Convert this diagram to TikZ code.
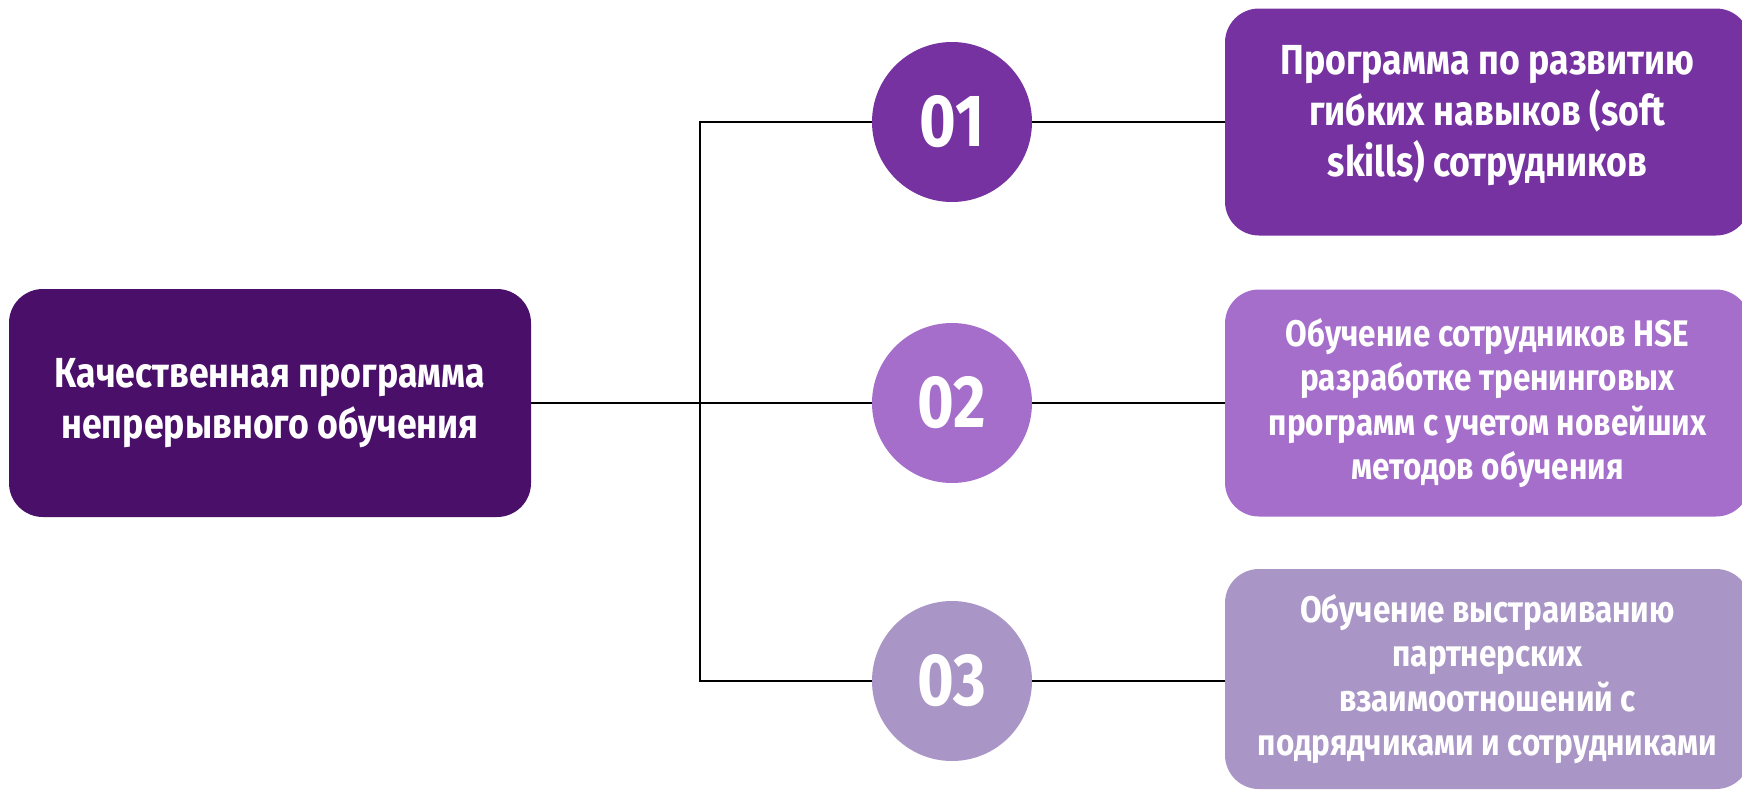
\documentclass[tikz,border=0pt]{standalone}
\usepackage{fontspec}
\setmainfont{Fira Sans}
\newfontfamily\condfont{Fira Sans}[FakeStretch=0.85]
\usepackage{xcolor}
\definecolor{deep}{HTML}{4A0F69}
\definecolor{plum}{HTML}{7532A0}
\definecolor{orchid}{HTML}{A56ECB}
\definecolor{lilac}{HTML}{A996C6}

\begin{document}
\begin{tikzpicture}[x=1pt,y=-1pt,
            box/.style = {rectangle,
            rounded corners=34,
            minimum width=525,
            minimum height=227,
            text=white, align=center,
            font=\condfont\bfseries\fontsize{42}{51}\selectfont},
            small/.style = {font=\condfont\bfseries\fontsize{37}{44.5}\selectfont},
            num/.style = {circle,
            minimum size=160, inner sep=0,
            text=white,
            font=\condfont\bfseries\fontsize{74}{74}\selectfont},
            link/.style = {line width=1.6pt}]
        % Page
        \useasboundingbox (0,0) rectangle (1742,795);
        \fill[white] (0,0) rectangle (1742,795);

        % Main box
        \node[box, fill=deep, minimum width=522, minimum height=228] (main) at (270,403)
            {Качественная программа\\непрерывного обучения};

        % Numbers
        \node[num, fill=plum] (c1) at (952,122) {01};
        \node[num, fill=orchid] (c2) at (952,403) {02};
        \node[num, fill=lilac] (c3) at (952,681) {03};

        % Items
        \node[box, fill=plum] (b1) at (1487.5,122) 
            {Программа по развитию\\гибких навыков (soft\\skills) сотрудников\rule[-22pt]{0pt}{1pt}};
        \node[box, small, fill=orchid] (b2) at (1487.5,403)
            {Обучение сотрудников HSE\\разработке тренинговых\\программ с учетом новейших\\методов обучения};
        \node[box, small, fill=lilac, minimum height=220] (b3) at (1487.5,679)
            {Обучение выстраиванию\\партнерских\\взаимоотношений с\\подрядчиками и сотрудниками};

        % Fork
        \coordinate (fork) at (700,403);
        \draw[link] (main.east) -- (c2.west);
        \draw[link] (c1.west) -- (c1.west -| fork) -- (c3.west -| fork) -- (c3.west);

        % Numbers to items
        \draw[link] (c1.east) -- (b1.west);
        \draw[link] (c2.east) -- (b2.west);
        \draw[link] (c3.east) -- (c3.east -| b3.west);
    \end{tikzpicture}
\end{document}
